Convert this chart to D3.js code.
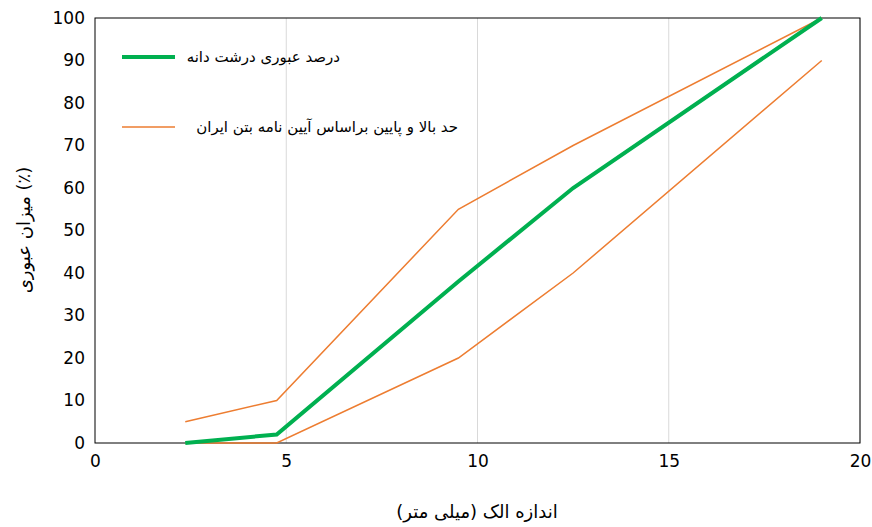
<!DOCTYPE html>
<html><head><meta charset="utf-8">
<script src="https://cdn.jsdelivr.net/npm/d3@7"></script>
<style>body{margin:0;background:#fff}text{font-family:"DejaVu Sans",sans-serif}</style>
</head><body><svg id="c" width="872" height="527"></svg>
<script>
const sizes=[2.36,4.75,9.5,12.5,19];
const passing=[0,2,38,60,100];
const upper=[5,10,55,70,100];
const lower=[0,0,20,40,90];
const xTicks=[0,5,10,15,20];
const yTicks=[0,10,20,30,40,50,60,70,80,90,100];
const svg=d3.select("#c");
const x=d3.scaleLinear().domain([0,20]).range([95,860]);
const y=d3.scaleLinear().domain([0,100]).range([443,18]);
svg.append("g").selectAll("line").data(xTicks.slice(1)).join("line")
 .attr("x1",d=>x(d)).attr("x2",d=>x(d)).attr("y1",y(0)).attr("y2",y(100)).attr("stroke","#d9d9d9");
svg.append("rect").attr("x",x(0)).attr("y",y(100)).attr("width",x(20)-x(0)).attr("height",y(0)-y(100)).attr("fill","none").attr("stroke","#000").attr("stroke-width",1);
const ax=svg.append("g").attr("transform",`translate(0,${y(0)})`).call(d3.axisBottom(x).tickValues(xTicks).tickSize(0).tickPadding(12));
ax.select(".domain").remove();
const ay=svg.append("g").attr("transform",`translate(${x(0)},0)`).call(d3.axisLeft(y).tickValues(yTicks).tickSize(0).tickPadding(10));
ay.select(".domain").remove();
svg.selectAll(".tick text").attr("font-size",17).attr("fill","#000").attr("font-family","DejaVu Sans");
const line=d3.line().x(d=>x(d[0])).y(d=>y(d[1]));
const pts=a=>sizes.map((s,i)=>[s,a[i]]);
svg.append("path").attr("d",line(pts(upper))).attr("fill","none").attr("stroke","#ed7d31").attr("stroke-width",1.5);
svg.append("path").attr("d",line(pts(lower))).attr("fill","none").attr("stroke","#ed7d31").attr("stroke-width",1.5);
svg.append("path").attr("d",line(pts(passing))).attr("fill","none").attr("stroke","#00b050").attr("stroke-width",4);
svg.append("line").attr("x1",122).attr("x2",175).attr("y1",57).attr("y2",57).attr("stroke","#00b050").attr("stroke-width",4);
svg.append("text").attr("x",340).attr("y",62).attr("text-anchor","end").attr("font-size",15).text("درصد عبوری درشت دانه");
svg.append("line").attr("x1",122).attr("x2",175).attr("y1",127).attr("y2",127).attr("stroke","#ed7d31").attr("stroke-width",1.5);
svg.append("text").attr("x",458).attr("y",132).attr("text-anchor","end").attr("font-size",15).text("حد بالا و پایین براساس آیین نامه بتن ایران");
svg.append("text").attr("x",477).attr("y",518).attr("text-anchor","middle").attr("font-size",18).text("اندازه الک (میلی متر)");
svg.append("text").attr("transform","translate(30,230) rotate(-90)").attr("text-anchor","middle").attr("font-size",18).text("میزان عبوری (٪)");
</script></body></html>
